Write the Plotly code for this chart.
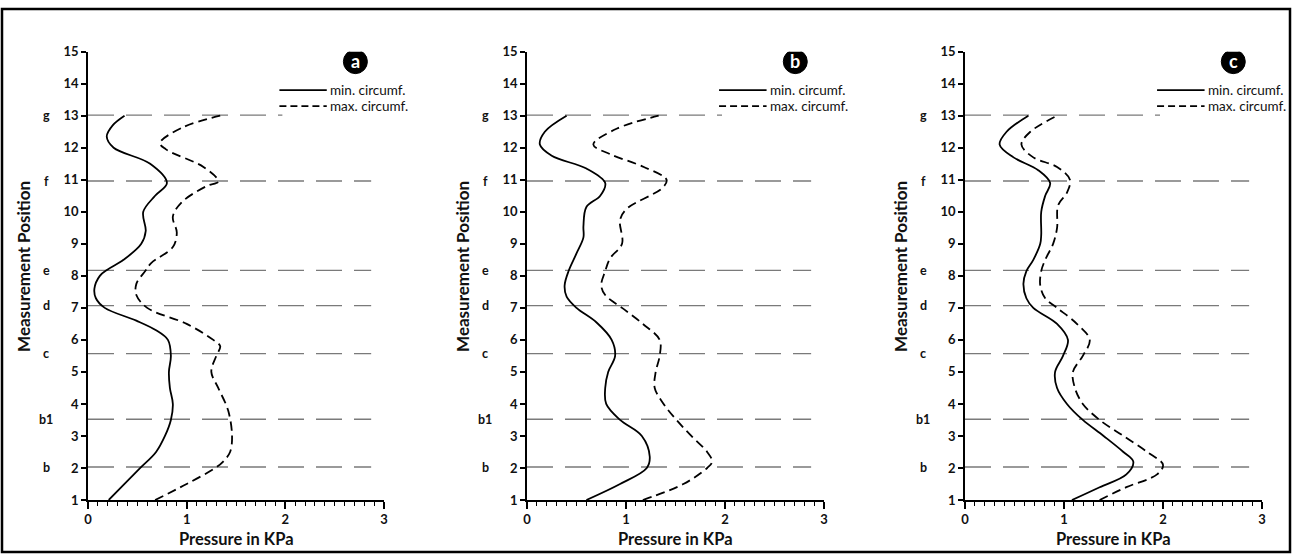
import plotly.graph_objects as go

# ---------------- data ----------------
panel_labels = ["a", "b", "c"]

ref_labels = ["g", "f", "e", "d", "c", "b1", "b"]
ref_positions = [13.02, 10.96, 8.17, 7.07, 5.57, 3.52, 2.03]
ref_line_end = [1.97, 2.87, 2.87, 2.87, 2.87, 2.87, 2.87]

a_min_y = [1, 1.5, 2, 2.5, 3, 3.5, 4, 4.5, 5, 5.5, 6, 6.3, 6.6, 7, 7.3, 7.6, 8, 8.2, 8.5, 9, 9.4, 10, 10.5, 10.9, 11.5, 12, 12.35, 12.7, 13]
a_min_x = [0.21, 0.37, 0.53, 0.69, 0.78, 0.84, 0.86, 0.83, 0.82, 0.84, 0.81, 0.69, 0.49, 0.17, 0.08, 0.065, 0.12, 0.20, 0.36, 0.54, 0.585, 0.56, 0.68, 0.80, 0.63, 0.26, 0.19, 0.25, 0.37]

a_max_y = [1, 1.5, 2, 2.2, 2.5, 3, 3.8, 4.5, 5, 5.5, 5.8, 6, 6.5, 7, 7.4, 7.75, 8.15, 8.4, 8.9, 9.35, 9.85, 10.3, 10.8, 10.95, 11.4, 11.95, 12.15, 12.65, 13]
a_max_x = [0.68, 1.0, 1.29, 1.37, 1.44, 1.46, 1.42, 1.32, 1.25, 1.30, 1.34, 1.27, 1.0, 0.60, 0.49, 0.49, 0.58, 0.64, 0.86, 0.90, 0.86, 0.95, 1.20, 1.32, 1.17, 0.79, 0.73, 0.97, 1.34]

b_min_y = [1, 1.5, 2, 2.35, 3, 3.5, 4, 4.5, 5, 5.5, 6, 6.55, 7, 7.35, 7.7, 8.15, 8.7, 9.2, 9.55, 10.15, 10.5, 10.9, 11.35, 11.75, 12.1, 12.5, 13]
b_min_x = [0.60, 0.94, 1.21, 1.24, 1.16, 0.94, 0.80, 0.79, 0.82, 0.89, 0.855, 0.70, 0.50, 0.40, 0.38, 0.42, 0.50, 0.57, 0.57, 0.60, 0.74, 0.79, 0.60, 0.25, 0.13, 0.18, 0.40]

b_max_y = [1, 1.5, 2, 2.2, 2.5, 3, 3.5, 4, 4.5, 5, 5.5, 6, 6.5, 7, 7.4, 7.7, 8.15, 8.55, 9, 9.75, 10.1, 10.75, 11, 11.4, 11.8, 12.1, 12.6, 13]
b_max_x = [1.17, 1.58, 1.82, 1.87, 1.82, 1.66, 1.51, 1.38, 1.29, 1.30, 1.34, 1.34, 1.17, 0.96, 0.79, 0.75, 0.79, 0.84, 0.96, 0.94, 1.01, 1.37, 1.41, 1.18, 0.84, 0.67, 0.91, 1.33]

c_min_y = [1, 1.4, 1.8, 2.2, 2.5, 3, 3.5, 4, 4.5, 5, 5.5, 6, 6.5, 7, 7.3, 7.75, 8.15, 8.5, 9, 9.3, 10, 10.5, 10.9, 11.3, 11.7, 12.1, 12.5, 13]
c_min_x = [1.08, 1.36, 1.63, 1.70, 1.60, 1.40, 1.19, 1.03, 0.93, 0.91, 0.99, 1.04, 0.93, 0.69, 0.62, 0.59, 0.62, 0.69, 0.76, 0.77, 0.77, 0.81, 0.86, 0.74, 0.49, 0.35, 0.42, 0.64]

c_max_y = [1, 1.4, 1.8, 2.1, 2.5, 3, 3.5, 4, 4.5, 5, 5.5, 6, 6.5, 7, 7.3, 7.7, 8.15, 8.5, 9, 9.5, 10.2, 10.6, 11, 11.4, 11.7, 12.1, 12.5, 13]
c_max_x = [1.36, 1.63, 1.94, 2.0, 1.84, 1.60, 1.36, 1.19, 1.11, 1.09, 1.19, 1.26, 1.13, 0.93, 0.81, 0.76, 0.77, 0.81, 0.89, 0.93, 0.94, 1.03, 1.06, 0.93, 0.69, 0.57, 0.66, 0.93]

series_names = ["min. circumf.", "max. circumf."]
x_ticks = [0, 1, 2, 3]
y_ticks = list(range(1, 16))

# ---------------- figure ----------------
W, H = 1294, 554
FONT = "Lato"
x_domains = [(88 / W, 384 / W), (527 / W, 824 / W), (965 / W, 1262 / W)]
y_domain = (1 - 500 / H, 1 - 51.7 / H)

panels = [
    (a_min_x, a_min_y, a_max_x, a_max_y),
    (b_min_x, b_min_y, b_max_x, b_max_y),
    (c_min_x, c_min_y, c_max_x, c_max_y),
]

fig = go.Figure()
annotations = []
shapes = []

for i, (mnx, mny, mxx, mxy) in enumerate(panels):
    sfx = "" if i == 0 else str(i + 1)
    xa, ya = "x" + sfx, "y" + sfx

    # horizontal reference lines at the measurement positions
    for pos, end in zip(ref_positions, ref_line_end):
        fig.add_trace(go.Scatter(
            x=[0, end], y=[pos, pos], mode="lines",
            line=dict(color="#7a7a7a", width=1.4, dash="26px,12px"),
            xaxis=xa, yaxis=ya, showlegend=False, hoverinfo="skip"))

    fig.add_trace(go.Scatter(
        x=mnx, y=mny, mode="lines", name=series_names[0],
        line=dict(color="black", width=1.8, shape="spline", smoothing=1.0),
        xaxis=xa, yaxis=ya, showlegend=False))
    fig.add_trace(go.Scatter(
        x=mxx, y=mxy, mode="lines", name=series_names[1],
        line=dict(color="black", width=1.8, shape="spline", smoothing=1.0, dash="9px,5px"),
        xaxis=xa, yaxis=ya, showlegend=False))

    fig.update_layout({
        "xaxis" + sfx: dict(
            domain=x_domains[i], anchor=ya, range=[0, 3], tickvals=x_ticks,
            showline=True, linecolor="black", linewidth=1.5,
            ticks="outside", ticklen=7, tickwidth=1.5, tickcolor="black",
            minor=dict(dtick=0.1, ticks="outside", ticklen=4, tickcolor="black", tickwidth=1),
            showgrid=False, zeroline=False, fixedrange=True, automargin=False,
            tickfont=dict(family=FONT, size=13, color="#111", weight="bold")),
        "yaxis" + sfx: dict(
            domain=y_domain, anchor=xa, range=[1, 15], tickvals=y_ticks,
            showline=True, linecolor="black", linewidth=1.5,
            ticks="outside", ticklen=5, tickwidth=1.5, tickcolor="black",
            showgrid=False, zeroline=False, fixedrange=True, automargin=False,
            tickfont=dict(family=FONT, size=13, color="#111", weight="bold")),
    })

    # measurement position letters
    for lab, pos in zip(ref_labels, ref_positions):
        annotations.append(dict(
            text="<b>%s</b>" % lab, x=0, xref=xa + " domain", xshift=-42, xanchor="center",
            y=pos, yref=ya, showarrow=False,
            font=dict(family=FONT, size=12.5, color="#111")))

    # axis titles
    annotations.append(dict(
        text="<b>Measurement Position</b>", x=0, xref=xa + " domain", xshift=-64,
        xanchor="center", y=0.52, yref=ya + " domain", yanchor="middle",
        textangle=-90, showarrow=False, font=dict(family=FONT, size=17, color="#111")))
    annotations.append(dict(
        text="<b>Pressure in KPa</b>", x=0.5, xref=xa + " domain", y=0, yref=ya + " domain",
        yshift=-39, yanchor="middle", showarrow=False,
        font=dict(family=FONT, size=16.5, color="#111")))

    # panel badge
    shapes.append(dict(
        type="circle", xref=xa, yref=ya, xsizemode="pixel", ysizemode="pixel",
        xanchor=2.71, yanchor=14.69, x0=-12, x1=12, y0=-12, y1=12,
        fillcolor="black", line=dict(color="black", width=1)))
    annotations.append(dict(
        text="<b>%s</b>" % panel_labels[i], x=2.71, xref=xa, y=14.69, yref=ya,
        showarrow=False, yshift=1, font=dict(family=FONT, size=18, color="white")))

    # legend keys
    shapes.append(dict(type="line", xref=xa, yref=ya, x0=1.94, x1=2.42, y0=13.8, y1=13.8,
                       line=dict(color="black", width=1.6)))
    shapes.append(dict(type="line", xref=xa, yref=ya, x0=1.94, x1=2.42, y0=13.3, y1=13.3,
                       line=dict(color="black", width=1.6, dash="7px,4px")))
    for nm, yy in zip(series_names, [13.8, 13.3]):
        annotations.append(dict(
            text=nm, x=2.43, xref=xa, xanchor="left", y=yy, yref=ya,
            showarrow=False, font=dict(family=FONT, size=13.5, color="#111")))

# outer frame
shapes.append(dict(type="rect", xref="paper", yref="paper",
                   x0=2 / W, x1=1290 / W, y0=1 - 552 / H, y1=1 - 9 / H,
                   line=dict(color="black", width=2.5)))

fig.update_layout(
    width=W, height=H, margin=dict(l=0, r=0, t=0, b=0, pad=0, autoexpand=False),
    paper_bgcolor="white", plot_bgcolor="white",
    showlegend=False, annotations=annotations, shapes=shapes,
    font=dict(family=FONT),
)

fig.write_html(
    "out.html",
    config={"responsive": False, "displayModeBar": False},
    post_script="document.body.style.margin='0';document.body.style.overflow='hidden';",
)
